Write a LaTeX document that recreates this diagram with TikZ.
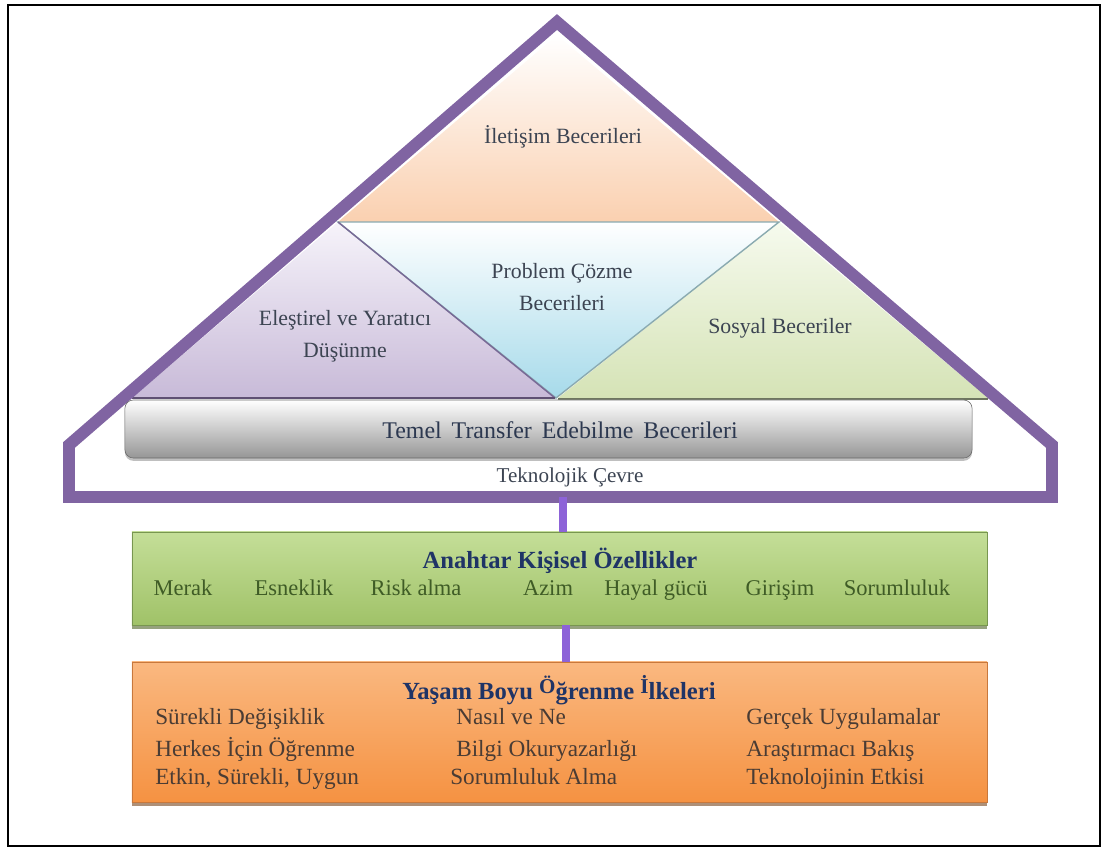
\documentclass[tikz,border=0pt]{standalone}
\usepackage{fontspec}
\setmainfont{Liberation Serif}
\usetikzlibrary{shadows}
\definecolor{housepurple}{HTML}{8064A2}
\definecolor{linkpurple}{HTML}{8D63D8}
\definecolor{labelgray}{HTML}{3C4452}
\definecolor{barnavy}{HTML}{2C3850}
\definecolor{titlenavy}{HTML}{1F3466}
\definecolor{traitgreen}{HTML}{3F5C26}
\definecolor{rowbrown}{HTML}{4A3C34}
\begin{document}
\begin{tikzpicture}[x=0.025cm,y=-0.025cm,
	tri/.style={shade,line width=1pt},
	lbl/.style={text=labelgray,align=center,font=\fontsize{15.5}{23}\selectfont},
	trait/.style={text=traitgreen,anchor=base,font=\fontsize{16}{19}\selectfont},
	row/.style={text=rowbrown,anchor=base west,inner sep=0pt,font=\fontsize{16.5}{19}\selectfont},
	box/.style={rectangle,inner sep=0pt,minimum width=21.375cm},
	link/.style={draw=linkpurple,line width=5.5pt}]
	\useasboundingbox (0,0) rectangle (1105,849);
	\draw[line width=2pt] (8,5) rectangle (1100,846);
	% skill triangles
	\path[tri,top color=white,bottom color={rgb,255:red,250;green,208;blue,176}] (557,35) -- (338,222) -- (779,222) -- cycle;
	\path[tri,top color={rgb,255:red,246;green,243;blue,250},bottom color={rgb,255:red,200;green,186;blue,216}] (338,222) -- (555,398) -- (132,398) -- cycle;
	\path[tri,top color={rgb,255:red,246;green,250;blue,238},bottom color={rgb,255:red,213;green,227;blue,182}] (779,222) -- (988,398) -- (558,398) -- cycle;
	\draw[tri,draw={rgb,255:red,138;green,170;blue,176},top color=white,bottom color={rgb,255:red,166;green,218;blue,234}] (338,222) -- (779,222) -- (556,398) -- cycle;
	\draw[line width=1pt,draw={rgb,255:red,120;green,105;blue,150}] (338,222) -- (555,398);
	\draw[line width=1.2pt,draw={rgb,255:red,95;green,80;blue,115}] (132,398) -- (555,398);
	\draw[line width=1.2pt,draw={rgb,255:red,110;green,118;blue,95}] (558,399) -- (988,399);
	\node[lbl] (iletisim) at (563,137) {İletişim Becerileri};
	\node[lbl] (problem) at (562,287) {Problem Çözme\\Becerileri};
	\node[lbl] (elestirel) at (345,336) {Eleştirel ve Yaratıcı\\Düşünme};
	\node[lbl] (sosyal) at (780,328) {Sosyal Beceriler};
	% house
	\draw[draw=housepurple,line width=8.5pt,line join=miter] (69,445) -- (557,22) -- (1052,445) -- (1052,497) -- (69,497) -- cycle;
	\node[rectangle,rounded corners=6pt,draw={rgb,255:red,105;green,105;blue,105},top color=white,bottom color={rgb,255:red,150;green,150;blue,150},
		minimum width=21.175cm,minimum height=1.45cm,drop shadow={shadow xshift=0pt,shadow yshift=-2pt,opacity=.5}] (temel) at (548.5,429) {};
	\node[text=barnavy,font=\fontsize{17}{20}\selectfont] (temeltext) at (560,430) {Temel\, Transfer\, Edebilme\, Becerileri};
	\node[text=labelgray,font=\fontsize{15}{18}\selectfont] (cevre) at (570,477) {Teknolojik Çevre};
	\coordinate (houseend) at (563,497);
	% key traits
	\node[box,minimum height=2.325cm,draw={rgb,255:red,120;green,150;blue,80},top color={rgb,255:red,196;green,222;blue,152},bottom color={rgb,255:red,160;green,194;blue,104},
		drop shadow={shadow xshift=0pt,shadow yshift=-2.5pt,opacity=.6,fill={rgb,255:red,80;green,100;blue,40}}] (traits) at (559.5,578.5) {};
	\node[text=titlenavy,anchor=base,font=\bfseries\fontsize{17.5}{20}\selectfont] (traitstitle) at (560,568) {Anahtar Kişisel Özellikler};
	\node[trait] (merak) at (183,595) {Merak};
	\node[trait] (esneklik) at (294,595) {Esneklik};
	\node[trait] (risk) at (416,595) {Risk alma};
	\node[trait] (azim) at (548,595) {Azim};
	\node[trait] (hayal) at (656,595) {Hayal gücü};
	\node[trait] (girisim) at (780,595) {Girişim};
	\node[trait] (sorumluluk) at (897,595) {Sorumluluk};
	\coordinate (traitsend) at (566,625);
	% lifelong learning
	\node[box,minimum height=3.5cm,draw={rgb,255:red,200;green,120;blue,60},top color={rgb,255:red,250;green,184;blue,128},bottom color={rgb,255:red,245;green,146;blue,66},
		drop shadow={shadow xshift=0pt,shadow yshift=-2.5pt,opacity=.6,fill={rgb,255:red,120;green,70;blue,30}}] (learning) at (559.5,732) {};
	\node[text=titlenavy,anchor=base,font=\bfseries\fontsize{17.5}{20}\selectfont] (learningtitle) at (559,699)
		{Yaşam Boyu \raisebox{4pt}{\fontsize{15}{15}\selectfont Ö}ğrenme \raisebox{4pt}{\fontsize{15}{15}\selectfont İ}lkeleri};
	\node[row] (r11) at (155,724) {Sürekli Değişiklik};
	\node[row] (r21) at (155,756) {Herkes İçin Öğrenme};
	\node[row] (r31) at (155,784) {Etkin, Sürekli, Uygun};
	\node[row] (r12) at (456,724) {Nasıl ve Ne};
	\node[row] (r22) at (456,756) {Bilgi Okuryazarlığı};
	\node[row] (r32) at (450,784) {Sorumluluk Alma};
	\node[row] (r13) at (746,724) {Gerçek Uygulamalar};
	\node[row] (r23) at (746,756) {Araştırmacı Bakış};
	\node[row] (r33) at (746,784) {Teknolojinin Etkisi};
	% links
	\draw[link] (houseend) -- (houseend |- traits.north);
	\draw[link] (traitsend) -- (traitsend |- learning.north);
\end{tikzpicture}
\end{document}
